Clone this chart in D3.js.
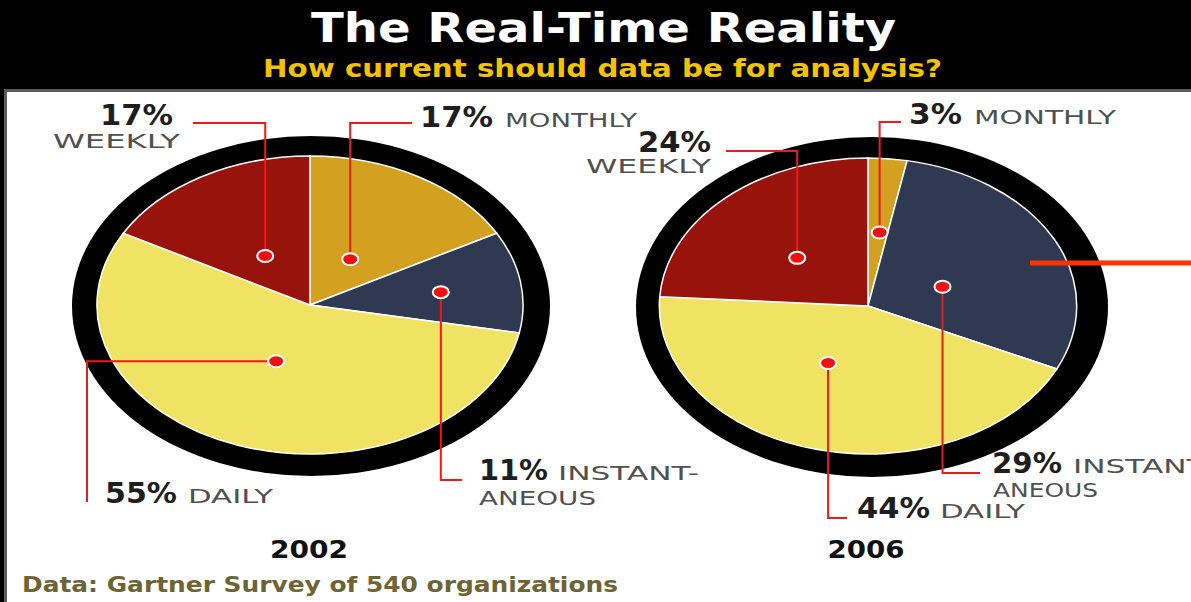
<!DOCTYPE html>
<html>
<head>
<meta charset="utf-8">
<script src="https://cdn.jsdelivr.net/npm/d3@7"></script>
<style>
  body { margin: 0; background: #fff; overflow: hidden; }
  svg { display: block; }
</style>
</head>
<body>
<script>
// ===== DATA =====
var categories = ["MONTHLY", "INSTANTANEOUS", "DAILY", "WEEKLY"];
var nameLines = [["MONTHLY"], ["INSTANT-", "ANEOUS"], ["DAILY"], ["WEEKLY"]];
var years = ["2002", "2006"];
var values2002 = [17, 11, 55, 17];
var values2006 = [3, 29, 44, 24];

var w = 1191, h = 602;

var svg = d3.select("body").append("svg")
  .attr("width", w)
  .attr("height", h);

var color = d3.scaleOrdinal()
  .domain(categories)
  .range(["#d3a11f", "#2f3a52", "#f0e262", "#97130c"]);

/* ===== FRAME ===== */
svg.append("rect").attr("x", 0).attr("y", 0).attr("width", w).attr("height", h).attr("fill", "#000");
svg.append("rect").attr("x", 4).attr("y", 89).attr("width", w).attr("height", h).attr("fill", "#5c5c5c");
svg.append("rect").attr("x", 7).attr("y", 92).attr("width", w).attr("height", h).attr("fill", "#fff");

var sans = "'DejaVu Sans', Verdana, sans-serif";
var cond = "'DejaVu Sans Condensed', 'Liberation Sans Narrow', 'DejaVu Sans', sans-serif";

svg.append("text")
  .attr("x", 311).attr("y", 42)
  .attr("textLength", 585).attr("lengthAdjust", "spacingAndGlyphs")
  .attr("font-family", cond).attr("font-weight", "bold").attr("font-size", 40)
  .attr("fill", "#fff")
  .text("The Real-Time Reality");

svg.append("text")
  .attr("x", 263).attr("y", 77)
  .attr("textLength", 679).attr("lengthAdjust", "spacingAndGlyphs")
  .attr("font-family", cond).attr("font-weight", "bold").attr("font-size", 25)
  .attr("fill", "#f4c300")
  .text("How current should data be for analysis?");

/* ===== PIE LAYOUT (positions only) ===== */
var charts = [
  {
    values: values2002, year: years[0],
    ring: { cx: 311, cy: 306, rx: 239, ry: 170 },
    pie: { cx: 310, cy: 305, r: 149, sx: 1.43 },
    yearPos: [309, 558, 78],
    labels: [
      { dotR: 0.36, dotA: 1, path: "v", ex: 412, ey: 123, pct: [420, 127, 73], names: [[505, 127, 132]] },
      { dotR: 0.62, dotA: 1, path: "v", ex: 462, ey: 480, pct: [479, 480, 69], names: [[558, 480, 141], [479, 505, 117]] },
      { dotR: 0.41, dotA: 3, path: "h", ex: 87, ey: 502, pct: [105, 503, 72], names: [[188, 503, 85]] },
      { dotR: 0.39, dotA: -2, path: "v", ex: 193, ey: 123, pct: [100, 125, 73], names: [[53, 148, 127]] }
    ]
  },
  {
    values: values2006, year: years[1],
    ring: { cx: 872, cy: 307, rx: 236, ry: 170 },
    pie: { cx: 868, cy: 306, r: 148, sx: 1.41 },
    yearPos: [866, 558, 77],
    labels: [
      { dotR: 0.5, dotA: 1, path: "v", ex: 901, ey: 122, pct: [909, 124, 53], names: [[974, 124, 142]] },
      { dotR: 0.38, dotA: 7, path: "v", ex: 980, ey: 473, pct: [992, 473, 70], names: [[1073, 473, 141], [993, 497, 105]] },
      { dotR: 0.43, dotA: 12, path: "v", ex: 847, ey: 518, pct: [857, 518, 73], names: [[940, 518, 85]] },
      { dotR: 0.47, dotA: -3, path: "v", ex: 726, ey: 151, pct: [638, 152, 73], names: [[586, 173, 125]] }
    ]
  }
];

var pie = d3.pie().sort(null).value(function (d) { return d; });

charts.forEach(function (c) {
  var arcs = pie(c.values);
  var arc = d3.arc().innerRadius(0).outerRadius(c.pie.r);

  /* ===== RING ===== */
  svg.append("ellipse")
    .attr("cx", c.ring.cx).attr("cy", c.ring.cy)
    .attr("rx", c.ring.rx).attr("ry", c.ring.ry)
    .attr("fill", "#000");

  /* ===== SLICES ===== */
  svg.append("g")
    .attr("transform", "translate(" + c.pie.cx + "," + c.pie.cy + ") scale(" + c.pie.sx + ",1)")
    .selectAll("path")
    .data(arcs)
    .enter()
    .append("path")
    .attr("d", arc)
    .attr("fill", function (d, i) { return color(categories[i]); })
    .attr("stroke", "#fff")
    .attr("stroke-width", 1.5)
    .attr("vector-effect", "non-scaling-stroke");

  /* ===== LEADERS + DOTS + LABELS ===== */
  arcs.forEach(function (d, i) {
    var L = c.labels[i];
    var mid = (d.startAngle + d.endAngle) / 2 + L.dotA * Math.PI / 180;
    var rr = c.pie.r * L.dotR;
    var dx = c.pie.cx + Math.sin(mid) * rr * c.pie.sx;
    var dy = c.pie.cy - Math.cos(mid) * rr;
    var pts = L.path === "v"
      ? [[dx, dy], [dx, L.ey], [L.ex, L.ey]]
      : [[dx, dy], [L.ex, dy], [L.ex, L.ey]];

    svg.append("path")
      .attr("d", d3.line()(pts))
      .attr("fill", "none")
      .attr("stroke", "#ec1c1c")
      .attr("stroke-width", 2);

    svg.append("ellipse")
      .attr("cx", dx).attr("cy", dy)
      .attr("rx", 8).attr("ry", 6)
      .attr("fill", "#f01010")
      .attr("stroke", "#fff")
      .attr("stroke-width", 2);

    svg.append("text")
      .attr("x", L.pct[0]).attr("y", L.pct[1])
      .attr("textLength", L.pct[2]).attr("lengthAdjust", "spacingAndGlyphs")
      .attr("font-family", sans).attr("font-weight", "bold").attr("font-size", 28)
      .attr("fill", "#1e1e1e")
      .text(d.data + "%");

    nameLines[i].forEach(function (t, j) {
      var p = L.names[j];
      svg.append("text")
        .attr("x", p[0]).attr("y", p[1])
        .attr("textLength", p[2]).attr("lengthAdjust", "spacingAndGlyphs")
        .attr("font-family", sans).attr("font-size", 20)
        .attr("fill", "#505050")
        .text(t);
    });
  });

  /* ===== YEAR ===== */
  svg.append("text")
    .attr("x", c.yearPos[0]).attr("y", c.yearPos[1])
    .attr("text-anchor", "middle")
    .attr("textLength", c.yearPos[2]).attr("lengthAdjust", "spacingAndGlyphs")
    .attr("font-family", sans).attr("font-weight", "bold").attr("font-size", 25)
    .attr("fill", "#111")
    .text(c.year);
});

/* ===== STRAY MARKER + SOURCE ===== */
svg.append("line")
  .attr("x1", 1030).attr("x2", w).attr("y1", 263).attr("y2", 263)
  .attr("stroke", "#ff3300").attr("stroke-width", 5);

svg.append("text")
  .attr("x", 22).attr("y", 592)
  .attr("textLength", 596).attr("lengthAdjust", "spacingAndGlyphs")
  .attr("font-family", cond).attr("font-weight", "bold").attr("font-size", 21)
  .attr("fill", "#6e6333")
  .text("Data: Gartner Survey of 540 organizations");
</script>
</body>
</html>
